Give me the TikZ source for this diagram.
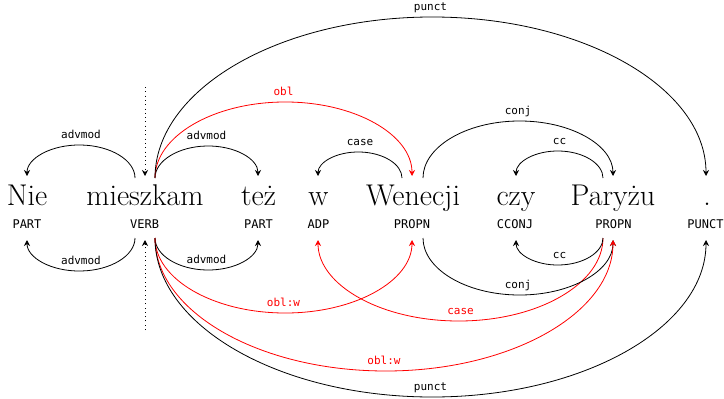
\documentclass[tikz,border=0pt]{standalone}
\usepackage{fontspec}
\newfontfamily\tagfont{DejaVu Sans Mono}
\usetikzlibrary{calc,arrows.meta}
% #1 colour, #2 label node name, #3 from, #4 to, #5 height (positive = up), #6 label
\newcommand\deparc[6][black]{%
  \draw[deparrow,color=#1] (#3)
    .. controls ($(#3)+(0,{-0.5523*(#5)})$) and ($(#3)!0.22385!(#4)+(0,{-(#5)})$)
    .. ($(#3)!0.5!(#4)+(0,{-(#5)})$)
    .. controls ($(#3)!0.77615!(#4)+(0,{-(#5)})$) and ($(#4)+(0,{-0.5523*(#5)})$)
    .. (#4);
  \node[arclabel,text=#1,anchor=base] (#2) at ($(#3)!0.5!(#4)+(0,{-(#5)-7})$) {#6};
}
\begin{document}
\begin{tikzpicture}[x=1pt,y=-1pt,
  word/.style={font=\fontsize{30}{36}\selectfont, inner sep=0pt, anchor=base},
  tag/.style={font=\tagfont\fontsize{12}{14}\selectfont, inner sep=0pt, anchor=base},
  arclabel/.style={font=\tagfont\fontsize{11}{13}\selectfont, inner sep=0pt},
  deparrow/.style={line width=0.8pt, -{Stealth[length=6pt,width=6pt,inset=2pt]}},
  dotline/.style={line width=0.8pt, dash pattern=on 1pt off 3.3pt, -{Stealth[length=6pt,width=6pt,inset=2pt]}}]
\useasboundingbox (0,0) rectangle (724,399);
% words
\node[word] (w1) at (27,205) {Nie};
\node[word] (w2) at (145,205) {mieszkam};
\node[word] (w3) at (258.5,205) {też};
\node[word] (w4) at (318.5,205) {w};
\node[word] (w5) at (413,205) {Wenecji};
\node[word] (w6) at (516,205) {czy};
\node[word] (w7) at (613,205) {Paryżu};
\node[word] (w8) at (707,205) {.};
% tags
\node[tag] (t1) at (27,228) {PART};
\node[tag] (t2) at (144.6,228) {VERB};
\node[tag] (t3) at (258.5,228) {PART};
\node[tag] (t4) at (318.5,228) {ADP};
\node[tag] (t5) at (412,228) {PROPN};
\node[tag] (t6) at (515,228) {CCONJ};
\node[tag] (t7) at (613.5,228) {PROPN};
\node[tag] (t8) at (705.5,228) {PUNCT};
% anchor points
\coordinate (nieT) at (27,176);   \coordinate (nieB) at (27,240);
\coordinate (mLT) at (135,178);   \coordinate (mLB) at (135,238);
\coordinate (mRT) at (155,178);   \coordinate (mRB) at (155,238);
\coordinate (tezT) at (258,176);  \coordinate (tezB) at (258,240);
\coordinate (wT) at (318,176);    \coordinate (wB) at (318,240);
\coordinate (wenInT) at (412,176); \coordinate (wenInB) at (412,240);
\coordinate (wenLT) at (402,178);
\coordinate (wenRT) at (423,178); \coordinate (wenRB) at (423,238);
\coordinate (czyT) at (516,176);  \coordinate (czyB) at (516,240);
\coordinate (parInT) at (613,176); \coordinate (parInB) at (613,240);
\coordinate (parLT) at (603,178); \coordinate (parLB) at (603,238);
\coordinate (dotT) at (706,176);  \coordinate (dotB) at (706,240);
\coordinate (d1) at (145,87);  \coordinate (d2) at (145,176);
\coordinate (d3) at (145,330); \coordinate (d4) at (145,240);
% root markers
\draw[dotline] (d1) -- (d2);
\draw[dotline] (d3) -- (d4);
% upper arcs
\deparc{l1}{mLT}{nieT}{32}{advmod}
\deparc{l2}{mRT}{tezT}{31}{advmod}
\deparc[red]{l3}{mRT}{wenInT}{75}{obl}
\deparc{l4}{mRT}{dotT}{160}{punct}
\deparc{l5}{wenLT}{wT}{25}{case}
\deparc{l6}{wenRT}{parInT}{56}{conj}
\deparc{l7}{parLT}{czyT}{26}{cc}
% lower arcs
\deparc{l8}{mLB}{nieB}{-32}{advmod}
\deparc{l9}{mRB}{tezB}{-31}{advmod}
\deparc[red]{l10}{mRB}{wenInB}{-74}{obl:w}
\deparc[red]{l11}{parLB}{wB}{-82}{case}
\deparc{l12}{wenRB}{parInB}{-56}{conj}
\deparc{l13}{parLB}{czyB}{-26}{cc}
\deparc[red]{l14}{mRB}{parInB}{-132}{obl:w}
\deparc{l15}{mRB}{dotB}{-158}{punct}
\end{tikzpicture}
\end{document}
